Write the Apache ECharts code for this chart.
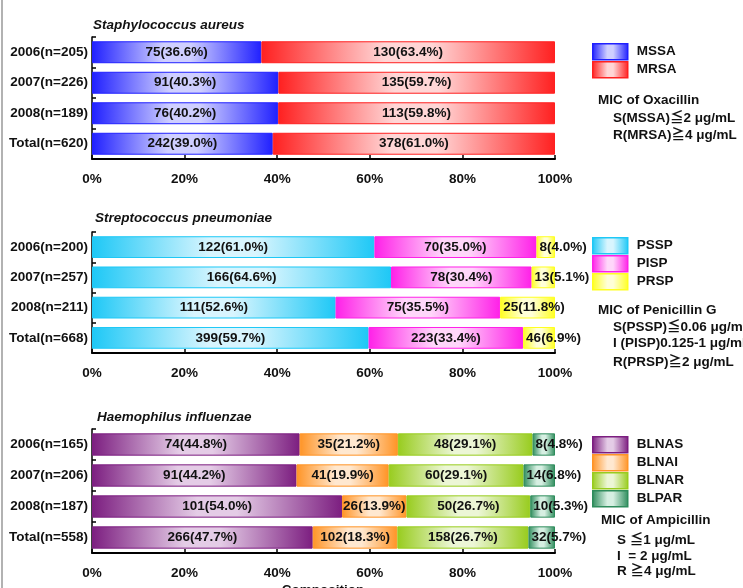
<!DOCTYPE html>
<html>
<head>
<meta charset="utf-8">
<script src="https://cdn.jsdelivr.net/npm/echarts@6/dist/echarts.min.js"></script>
<style>
  html, body { margin: 0; padding: 0; background: #fff; }
  #chart { width: 743px; height: 588px; }
</style>
</head>
<body>
<div id="chart"></div>
<script>
// Staphylococcus aureus
const saCats = ['2006(n=205)', '2007(n=226)', '2008(n=189)', 'Total(n=620)'];
const saTotals = [205, 226, 189, 620];
const saMSSA = [75, 91, 76, 242];
const saMSSAPct = [36.6, 40.3, 40.2, 39.0];
const saMRSA = [130, 135, 113, 378];
const saMRSAPct = [63.4, 59.7, 59.8, 61.0];

// Streptococcus pneumoniae
const spCats = ['2006(n=200)', '2007(n=257)', '2008(n=211)', 'Total(n=668)'];
const spTotals = [200, 257, 211, 668];
const spPSSP = [122, 166, 111, 399];
const spPSSPPct = [61.0, 64.6, 52.6, 59.7];
const spPISP = [70, 78, 75, 223];
const spPISPPct = [35.0, 30.4, 35.5, 33.4];
const spPRSP = [8, 13, 25, 46];
const spPRSPPct = [4.0, 5.1, 11.8, 6.9];

// Haemophilus influenzae
const hiCats = ['2006(n=165)', '2007(n=206)', '2008(n=187)', 'Total(n=558)'];
const hiTotals = [165, 206, 187, 558];
const hiBLNAS = [74, 91, 101, 266];
const hiBLNASPct = [44.8, 44.2, 54.0, 47.7];
const hiBLNAI = [35, 41, 26, 102];
const hiBLNAIPct = [21.2, 19.9, 13.9, 18.3];
const hiBLNAR = [48, 60, 50, 158];
const hiBLNARPct = [29.1, 29.1, 26.7, 26.7];
const hiBLPAR = [8, 14, 10, 32];
const hiBLPARPct = [4.8, 6.8, 5.3, 5.7];

const xTicks = [0, 20, 40, 60, 80, 100];

const FONT = '"Liberation Sans", Arial, "Noto Sans CJK JP", sans-serif';
const FS = 13.5;

function grad(dark, light) {
  return new echarts.graphic.LinearGradient(0, 0, 1, 0, [
    { offset: 0, color: dark },
    { offset: 0.42, color: light },
    { offset: 0.58, color: light },
    { offset: 1, color: dark }
  ]);
}

function makeSeries(name, gridIdx, counts, pcts, totals, dark, light) {
  return {
    name: name,
    type: 'bar',
    stack: 's' + gridIdx,
    xAxisIndex: gridIdx,
    yAxisIndex: gridIdx,
    barCategoryGap: '28%',
    itemStyle: { color: grad(dark, light), borderColor: dark, borderWidth: 1 },
    data: counts.map((c, i) => {
      const share = c / totals[i] * 100;
      const narrow = share < 12;
      return {
        value: share,
        label: narrow ? { position: 'insideLeft', distance: 3 } : { position: 'inside' }
      };
    }),
    label: {
      show: true,
      color: '#111',
      fontFamily: FONT,
      fontWeight: 'bold',
      fontSize: FS,
      formatter: p => counts[p.dataIndex] + '(' + pcts[p.dataIndex].toFixed(1) + '%)'
    }
  };
}

const grids = [
  { left: 92, width: 463, top: 37, height: 122 },
  { left: 92, width: 463, top: 232, height: 121 },
  { left: 92, width: 463, top: 429, height: 124 }
];

function xAxisFor(i) {
  return {
    type: 'value', gridIndex: i, min: 0, max: 100, interval: 20,
    axisLine: { show: true, lineStyle: { color: '#000', width: 2 } },
    axisTick: { show: true, inside: true, length: 4, lineStyle: { color: '#000', width: 1.5 } },
    splitLine: { show: false },
    axisLabel: {
      margin: 14, color: '#111', fontFamily: FONT, fontWeight: 'bold', fontSize: FS,
      formatter: v => xTicks.includes(v) ? v + '%' : ''
    }
  };
}

function yAxisFor(i, cats) {
  return {
    type: 'category', gridIndex: i, data: cats, inverse: true,
    axisLine: { show: true, lineStyle: { color: '#000', width: 1.5 } },
    axisTick: { show: true, inside: true, length: 4, lineStyle: { color: '#000', width: 1.5 } },
    axisLabel: { margin: 4, color: '#111', fontFamily: FONT, fontWeight: 'bold', fontSize: FS }
  };
}

function legendFor(names, top) {
  return {
    data: names, orient: 'vertical', left: 592, top: top,
    itemWidth: 35, itemHeight: 16, itemGap: 0.5, icon: 'rect',
    selectedMode: false, padding: 0,
    itemStyle: { borderWidth: 1.5 },
    textStyle: {
      color: '#111', fontFamily: FONT, fontWeight: 'bold', fontSize: FS,
      lineHeight: 15, padding: [0, 0, 0, 4]
    }
  };
}

function txt(x, y, s, italic) {
  return {
    type: 'text', x: x, y: y,
    style: {
      text: s, fill: '#111', verticalAlign: 'middle',
      font: (italic ? 'italic ' : '') + 'bold ' + FS + 'px ' + FONT
    }
  };
}

const series = [
  makeSeries('MSSA', 0, saMSSA, saMSSAPct, saTotals, '#2020ff', '#cfcfff'),
  makeSeries('MRSA', 0, saMRSA, saMRSAPct, saTotals, '#ff2020', '#ffd6d6'),
  makeSeries('PSSP', 1, spPSSP, spPSSPPct, spTotals, '#1ec8f6', '#d8f5fe'),
  makeSeries('PISP', 1, spPISP, spPISPPct, spTotals, '#ff20e8', '#ffd6fa'),
  makeSeries('PRSP', 1, spPRSP, spPRSPPct, spTotals, '#ffff20', '#ffffd8'),
  makeSeries('BLNAS', 2, hiBLNAS, hiBLNASPct, hiTotals, '#7c1e80', '#e4cce6'),
  makeSeries('BLNAI', 2, hiBLNAI, hiBLNAIPct, hiTotals, '#ff9426', '#ffe8d0'),
  makeSeries('BLNAR', 2, hiBLNAR, hiBLNARPct, hiTotals, '#98cc1e', '#ecf6d6'),
  makeSeries('BLPAR', 2, hiBLPAR, hiBLPARPct, hiTotals, '#2e8c5c', '#d6efe2')
];

const chart = echarts.init(document.getElementById('chart'), null, { renderer: 'canvas' });
chart.setOption({
  backgroundColor: '#fff',
  animation: false,
  grid: grids,
  xAxis: [xAxisFor(0), xAxisFor(1), xAxisFor(2)],
  yAxis: [yAxisFor(0, saCats), yAxisFor(1, spCats), yAxisFor(2, hiCats)],
  legend: [
    legendFor(['MSSA', 'MRSA'], 43),
    legendFor(['PSSP', 'PISP', 'PRSP'], 237),
    legendFor(['BLNAS', 'BLNAI', 'BLNAR', 'BLPAR'], 436)
  ],
  series: series,
  graphic: [
    { type: 'line', shape: { x1: 2, y1: 0, x2: 2, y2: 588 }, style: { stroke: '#999', lineWidth: 1.5 } },
    txt(93, 25, 'Staphylococcus aureus', true),
    txt(95, 218, 'Streptococcus pneumoniae', true),
    txt(97, 417, 'Haemophilus influenzae', true),
    txt(598, 100, 'MIC of Oxacillin'),
    txt(613, 118, 'S(MSSA)≦2 μg/mL'),
    txt(613, 135, 'R(MRSA)≧4 μg/mL'),
    txt(598, 310, 'MIC of Penicillin G'),
    txt(613, 327, 'S(PSSP)≦0.06 μg/mL'),
    txt(613, 343, 'I (PISP)0.125-1 μg/mL'),
    txt(613, 362, 'R(PRSP)≧2 μg/mL'),
    txt(601, 520, 'MIC of Ampicillin'),
    txt(617, 540, 'S ≦1 μg/mL'),
    txt(617, 556, 'I  = 2 μg/mL'),
    txt(617, 571, 'R ≧4 μg/mL'),
    { type: 'text', x: 323, y: 584, style: { text: 'Composition', fill: '#111', align: 'center', verticalAlign: 'top', font: 'bold ' + FS + 'px ' + FONT } }
  ]
});
</script>
</body>
</html>
